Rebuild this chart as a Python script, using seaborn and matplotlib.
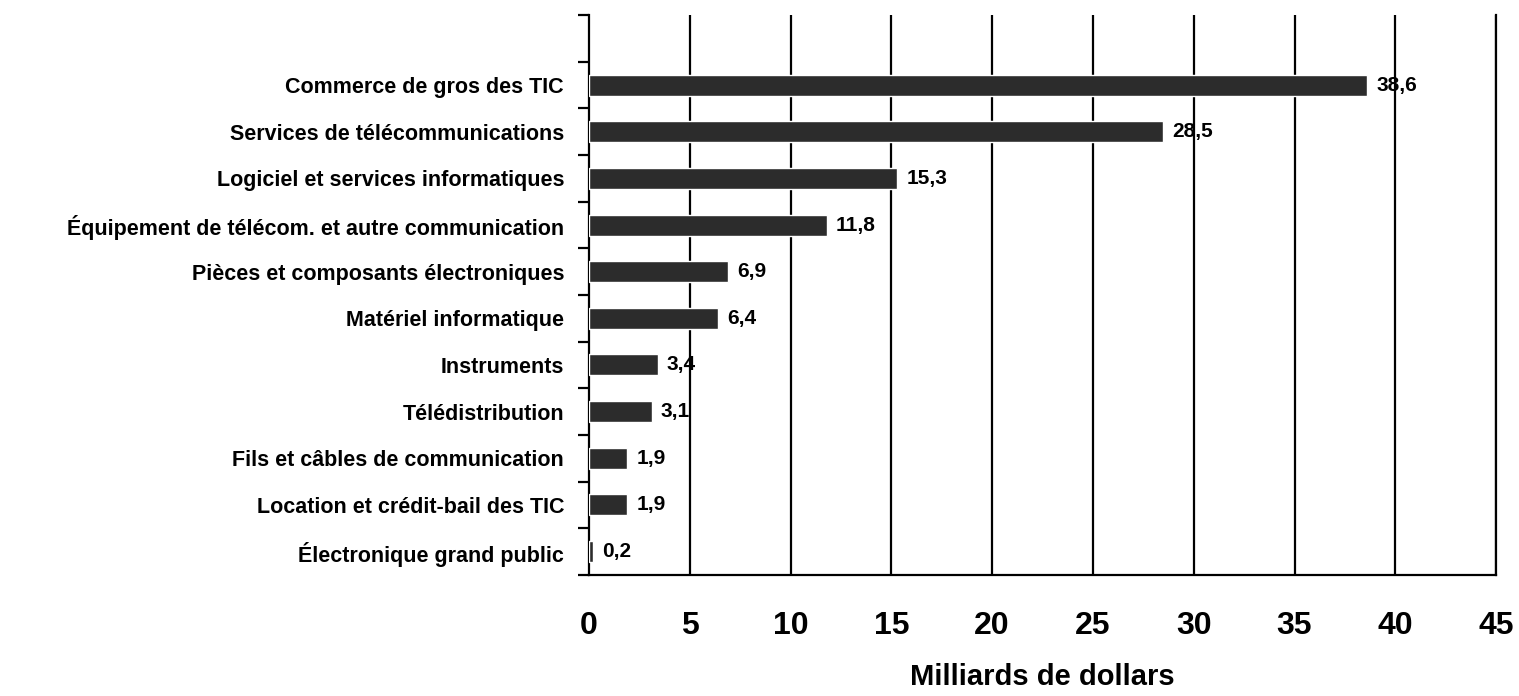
import numpy as np
import pandas as pd
import matplotlib
matplotlib.use("Agg")
import matplotlib.pyplot as plt
import seaborn as sns

categories = [
    "Commerce de gros des TIC",
    "Services de télécommunications",
    "Logiciel et services informatiques",
    "Équipement de télécom. et autre communication",
    "Pièces et composants électroniques",
    "Matériel informatique",
    "Instruments",
    "Télédistribution",
    "Fils et câbles de communication",
    "Location et crédit-bail des TIC",
    "Électronique grand public",
]
values = [38.6, 28.5, 15.3, 11.8, 6.9, 6.4, 3.4, 3.1, 1.9, 1.9, 0.2]
x_ticks = [0, 5, 10, 15, 20, 25, 30, 35, 40, 45]

sns.set_theme(style="white")
plt.rcParams["font.family"] = ["Liberation Sans", "DejaVu Sans"]
plt.rcParams["text.color"] = "black"
plt.rcParams["xtick.color"] = "black"
plt.rcParams["ytick.color"] = "black"
plt.rcParams["axes.labelcolor"] = "black"

df = pd.DataFrame({"cat": categories, "val": values})

fig = plt.figure(figsize=(15.19, 6.96), dpi=100)
ax = fig.add_axes([0.3878, 0.1739, 0.5971, 0.8045])

sns.barplot(data=df, x="val", y="cat", orient="h", color="#2c2c2c",
            width=0.45, saturation=1, ax=ax, zorder=3)

ax.set_xlim(0, 45)
ax.set_ylim(len(categories) - 0.5, -1.5)

# lignes verticales de la grille
for xt in x_ticks[1:]:
    ax.axvline(xt, color="black", lw=1.6, zorder=1)

ax.spines["top"].set_visible(False)
for s in ["left", "bottom", "right"]:
    ax.spines[s].set_color("black")
    ax.spines[s].set_linewidth(1.6)

ax.set_xticks(x_ticks)
ax.set_xticklabels([str(t) for t in x_ticks], fontsize=23, fontweight="bold")
ax.tick_params(axis="x", direction="out", length=10, width=1.6, color="black", pad=16)

ax.set_yticks(range(len(categories)))
ax.set_yticklabels(categories, fontsize=15.5, fontweight="bold")
ax.tick_params(axis="y", which="major", length=0, pad=18)
ax.set_yticks(np.arange(-1.5, len(categories), 1.0), minor=True)
ax.tick_params(axis="y", which="minor", direction="out", length=8, width=1.6, color="black", left=True)

for i, v in enumerate(values):
    ax.text(v + 0.45, i, f"{v:.1f}".replace(".", ","), va="center", ha="left",
            fontsize=15, fontweight="bold", zorder=4)

ax.set_ylabel("")
ax.set_xlabel("Milliards de dollars", fontsize=21, fontweight="bold", labelpad=16)

fig.savefig("out.png", dpi=100)
